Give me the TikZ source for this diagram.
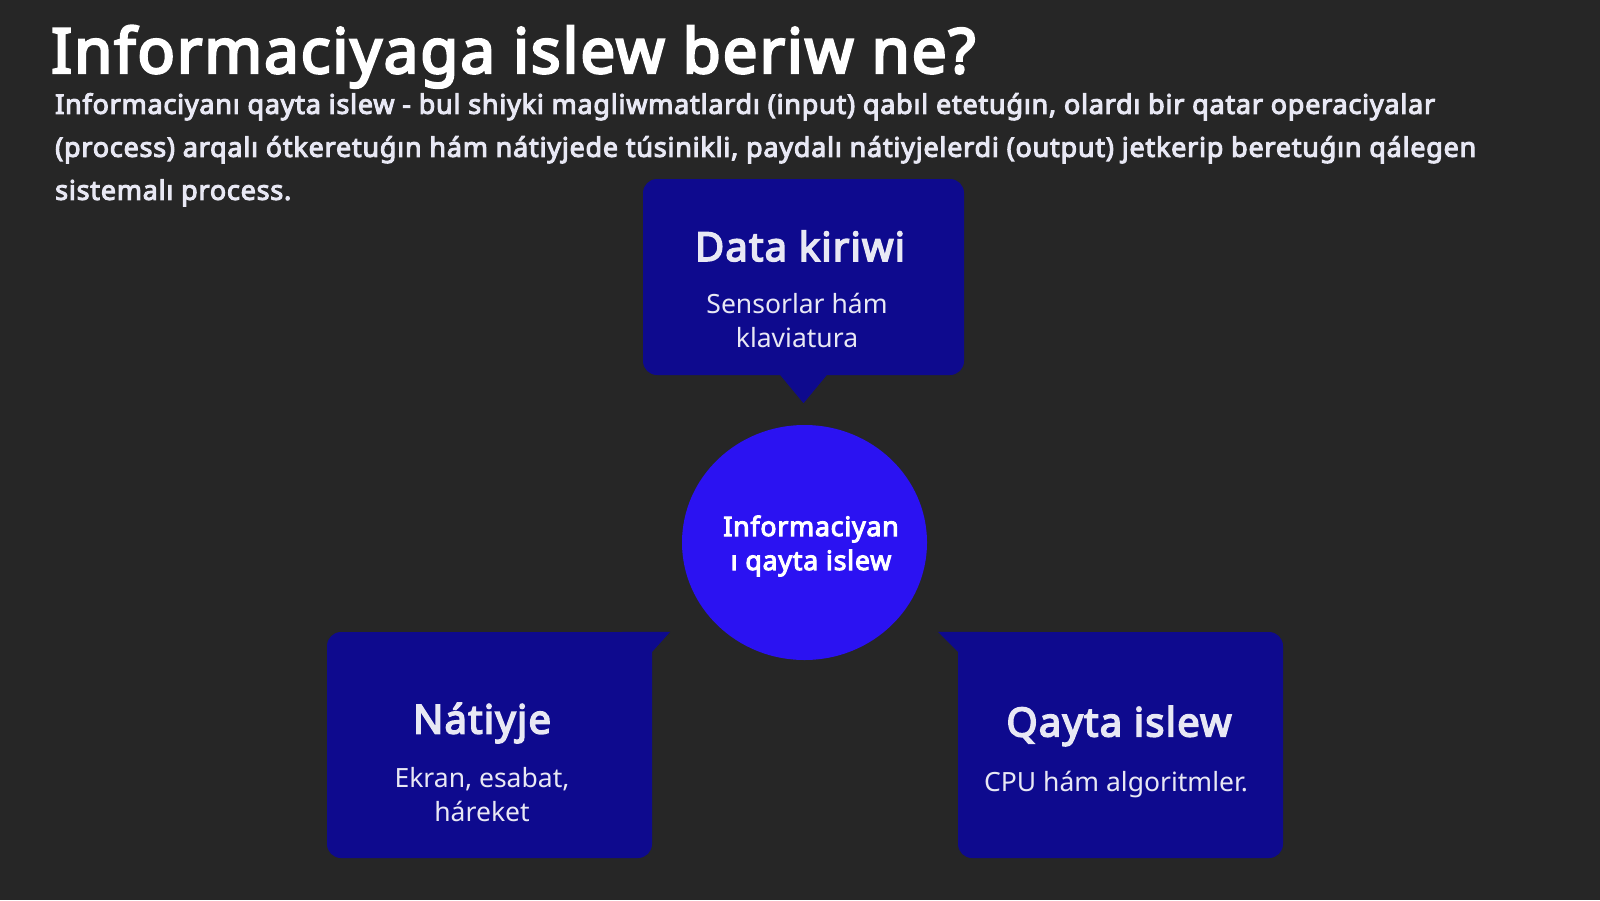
\documentclass[tikz,border=0pt]{standalone}
\usepackage{fontspec}
\setmainfont{Noto Sans}[BoldFont={Noto Sans}, BoldFeatures={FakeBold=4, LetterSpace=3}]
\usetikzlibrary{positioning,calc,shapes.geometric}
\definecolor{bg}{HTML}{262626}
\definecolor{cardblue}{HTML}{0E0A8E}
\definecolor{coreblue}{HTML}{2B12F2}
\definecolor{pale}{HTML}{E8E8F4}
\tikzset{
	card/.style={fill=cardblue, rounded corners=14pt, inner sep=0pt},
	core/.style={ellipse, fill=coreblue, inner sep=0pt, minimum width=245pt, minimum height=235pt},
	head/.style={text=pale, font=\fontsize{40}{46}\selectfont\bfseries, inner sep=0pt},
	sub/.style={text=pale, font=\fontsize{26.5}{34}\selectfont, align=center, inner sep=0pt},
}
\begin{document}
\begin{tikzpicture}[x=1pt, y=-1pt]
	\fill[bg] (0,0) rectangle (1600,900);
	\node[anchor=base west, inner sep=0pt, text=white, font=\fontsize{62}{70}\selectfont\bfseries] (title) at (51,73) {Informaciyaga islew beriw ne?};
	\node[anchor=north west, inner sep=0pt, text=pale, align=left, font=\fontsize{26.9}{43}\selectfont\bfseries] (intro) at (55,93) {Informaciyanı qayta islew - bul shiyki magliwmatlardı (input) qabıl etetuǵın, olardı bir qatar operaciyalar\\(process) arqalı ótkeretuǵın hám nátiyjede túsinikli, paydalı nátiyjelerdi (output) jetkerip beretuǵın qálegen\\sistemalı process.};
	\node[card, minimum width=321pt, minimum height=196pt] (input) at (803.5,277) {};
	\fill[cardblue] ($(input.south)+(-24,-1)$) -- ($(input.south)+(24,-1)$) -- ($(input.south)+(0,28)$) -- cycle;
	\node[card, minimum width=325pt, minimum height=226pt] (output) at (489.5,745) {};
	\fill[cardblue] ($(output.north east)+(-30,0)$) -- ($(output.north east)+(18,0)$) -- ($(output.north east)+(0,20)$) -- ($(output.north east)+(-30,20)$) -- cycle;
	\node[card, minimum width=325pt, minimum height=226pt] (process) at (1120.5,745) {};
	\fill[cardblue] ($(process.north west)+(30,0)$) -- ($(process.north west)+(-20,0)$) -- ($(process.north west)+(0,20)$) -- ($(process.north west)+(30,20)$) -- cycle;
	\node[core] (centre) at (804.5,542.5) {};
	\node[align=center, inner sep=0pt, text=white, font=\fontsize{26.7}{34}\selectfont\bfseries] (centretext) at (811,546) {Informaciyan\\ı qayta islew};
	\node[head] (inhead) at (800,246) {Data kiriwi};
	\node[sub] (insub) at (797,320) {Sensorlar hám\\klaviatura};
	\node[head] (outhead) at (482,723) {Nátiyje};
	\node[sub] (outsub) at (482,795) {Ekran, esabat,\\háreket};
	\node[head] (prochead) at (1119,726) {Qayta islew};
	\node[sub] (procsub) at (1116,785) {CPU hám algoritmler.};
\end{tikzpicture}
\end{document}
